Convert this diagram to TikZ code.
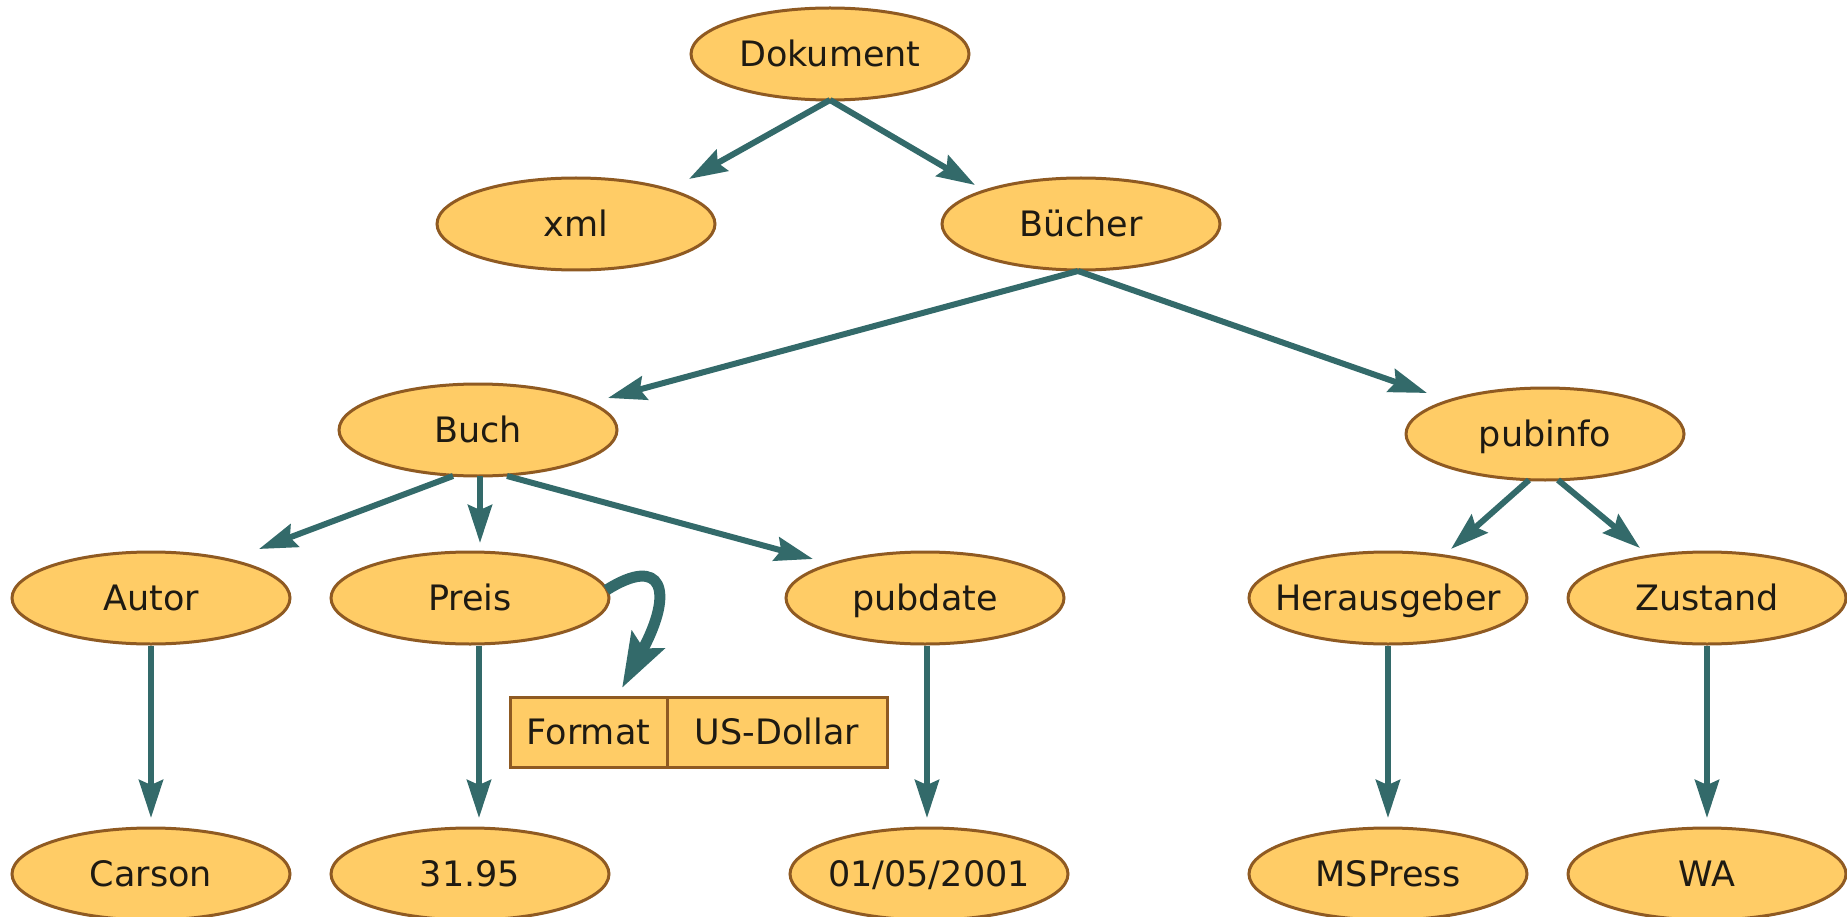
\documentclass[tikz,border=0pt]{standalone}
\usepackage{fontspec}
\setmainfont{DejaVu Sans}
\usetikzlibrary{shapes.geometric,arrows.meta,calc}
\definecolor{nodefill}{HTML}{FFCC66}
\definecolor{nodeedge}{HTML}{8F5A22}
\definecolor{arrowcol}{HTML}{336A6A}
\definecolor{txtcol}{HTML}{1E1A12}
\begin{document}
\begin{tikzpicture}[x=1pt,y=-1pt,
  elnode/.style={ellipse,draw=nodeedge,line width=3pt,fill=nodefill,minimum width=278pt,minimum height=92pt,inner xsep=-40pt,inner ysep=0pt,text height=28pt,text depth=3pt,text=txtcol,font=\fontsize{35}{40}\selectfont},
  boxnode/.style={rectangle,draw=nodeedge,line width=3pt,fill=nodefill,minimum height=70pt,inner sep=0pt,text height=28pt,text depth=3pt,text=txtcol,font=\fontsize{35}{40}\selectfont},
  conn/.style={draw=arrowcol,line width=6pt,-{Stealth[length=38pt,width=24pt,inset=5pt]}},
  bigconn/.style={draw=arrowcol,line width=11pt,-{Stealth[length=54pt,width=36pt,inset=9pt]}}]
\useasboundingbox (0,0) rectangle (1847,917);
% nodes
\node[elnode] (dok) at (830,54) {Dokument};
\node[elnode] (xml) at (576,224) {xml};
\node[elnode] (buecher) at (1081,224) {Bücher};
\node[elnode] (buch) at (478,430) {Buch};
\node[elnode] (pubinfo) at (1545,434) {pubinfo};
\node[elnode] (autor) at (151,598) {Autor};
\node[elnode] (preis) at (470,598) {Preis};
\node[elnode] (pubdate) at (925,598) {pubdate};
\node[elnode] (hrsg) at (1388,598) {Herausgeber};
\node[elnode] (zustand) at (1707,598) {Zustand};
\node[elnode] (carson) at (151,874) {Carson};
\node[elnode] (preisval) at (470,874) {31.95};
\node[elnode] (datum) at (929,874) {01/05/2001};
\node[elnode] (mspress) at (1388,874) {MSPress};
\node[elnode] (wa) at (1707,874) {WA};
\node[boxnode,minimum width=157pt] (fmtl) at (588.5,732) {Format};
\node[boxnode,minimum width=220pt] (fmtr) at (777,732) {US-Dollar};
\coordinate (ftip) at (622,688);
% connectors
\draw[conn] ($(dok)+(0,46)$) -- ($(xml)+(113,-45)$);
\draw[conn] ($(dok)+(0,46)$) -- ($(buecher)+(-106,-39)$);
\draw[conn] ($(buecher)+(-3,47)$) -- ($(buch)+(130,-32)$);
\draw[conn] ($(buecher)+(-3,47)$) -- ($(pubinfo)+(-118,-41)$);
\draw[conn] ($(buch)+(-25,46)$) -- ($(autor)+(108,-49)$);
\draw[conn] ($(buch)+(2,46)$) -- ($(preis)+(10,-55)$);
\draw[conn] ($(buch)+(29,46)$) -- ($(pubdate)+(-112,-39)$);
\draw[conn] ($(pubinfo)+(-16,46)$) -- ($(hrsg)+(63,-49)$);
\draw[conn] ($(pubinfo)+(13,46)$) -- ($(zustand)+(-67,-50)$);
\draw[conn] (autor.south) -- ($(carson)+(0,-56)$);
\draw[conn] ($(preis.south)+(9,0)$) -- ($(preisval)+(9,-56)$);
\draw[conn] ($(pubdate.south)+(2,0)$) -- ($(datum)+(-2,-56)$);
\draw[conn] (hrsg.south) -- ($(mspress)+(0,-56)$);
\draw[conn] (zustand.south) -- ($(wa)+(0,-56)$);
\draw[bigconn] ($(preis.east)+(-4,-8)$) .. controls (662,555) and (675,590) .. (ftip);
\end{tikzpicture}
\end{document}
